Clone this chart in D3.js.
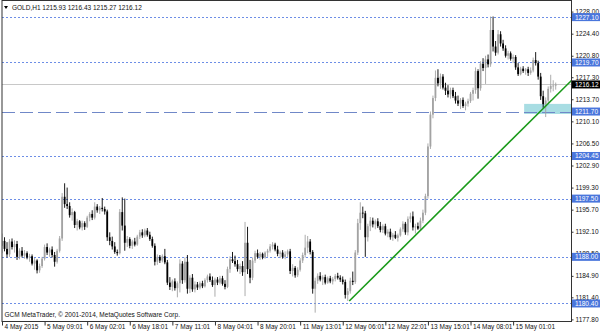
<!DOCTYPE html>
<html>
<head>
<meta charset="utf-8">
<script src="https://cdn.jsdelivr.net/npm/d3@7"></script>
<style>
  body { margin: 0; background: #fff; }
  text { font-family: "Liberation Sans", Arial, sans-serif; }
</style>
</head>
<body>
<div id="chart"></div>
<script>
// chart values
const symbol = "GOLD,H1";
const lastOHLC = [1215.93, 1216.43, 1215.27, 1216.12];
const copyright = "GCM MetaTrader, \u00a9 2001-2014, MetaQuotes Software Corp.";

// hourly bars: [open, high, low, close]
const bars = [
  [1189.8,1191.8,1188.6,1190.6],[1190.6,1191.2,1188.9,1189.3],[1189.3,1190.4,1187.9,1188.4],[1188.4,1190.9,1188.0,1190.5],
  [1190.5,1191.0,1189.2,1189.6],[1189.6,1190.7,1188.7,1190.1],[1190.1,1190.6,1187.5,1188.0],[1188.0,1189.4,1187.6,1189.0],
  [1189.0,1189.6,1187.9,1188.2],[1188.2,1189.1,1187.7,1188.6],[1188.6,1188.9,1187.6,1187.9],[1187.9,1188.5,1187.2,1188.1],
  [1188.1,1188.4,1186.6,1186.9],[1186.9,1187.8,1185.9,1187.4],[1187.4,1187.6,1185.3,1185.8],[1185.8,1186.9,1185.4,1186.5],
  [1186.5,1188.0,1186.2,1187.7],[1187.7,1190.0,1187.4,1189.6],[1189.6,1190.2,1188.3,1188.7],[1188.7,1189.5,1188.0,1189.2],
  [1189.2,1189.7,1187.9,1188.3],[1188.3,1188.8,1186.4,1187.2],[1187.2,1189.3,1186.9,1189.0],[1189.0,1191.4,1188.7,1191.0],
  [1191.0,1198.4,1190.6,1197.8],[1197.8,1200.0,1196.0,1196.6],[1196.6,1199.3,1195.8,1196.3],[1196.3,1196.9,1194.4,1194.8],
  [1194.8,1195.9,1193.9,1195.3],[1195.3,1195.5,1192.7,1193.2],[1193.2,1194.2,1192.3,1193.8],[1193.8,1194.0,1192.5,1192.8],
  [1192.8,1193.9,1192.3,1193.5],[1193.5,1193.8,1192.4,1192.9],[1192.9,1194.7,1192.7,1194.4],[1194.4,1195.3,1193.8,1195.0],
  [1195.0,1195.6,1194.0,1194.4],[1194.4,1196.9,1194.1,1196.2],[1196.2,1196.6,1195.2,1195.6],[1195.6,1196.3,1195.0,1196.0],
  [1196.0,1197.6,1195.4,1195.8],[1195.8,1196.2,1194.9,1195.4],[1195.4,1195.7,1190.6,1191.2],[1191.2,1192.0,1189.9,1190.6],
  [1190.6,1191.3,1189.2,1189.7],[1189.7,1190.4,1188.5,1188.8],[1188.8,1189.2,1188.2,1188.6],[1188.6,1195.8,1188.4,1195.3],
  [1195.3,1197.7,1192.3,1193.1],[1193.1,1197.5,1189.0,1190.3],[1190.3,1191.4,1189.6,1190.9],[1190.9,1191.2,1189.4,1189.8],
  [1189.8,1190.8,1189.3,1190.5],[1190.5,1191.1,1189.7,1190.0],[1190.0,1191.6,1189.8,1191.3],[1191.3,1192.4,1190.9,1192.0],
  [1192.0,1192.5,1191.1,1191.5],[1191.5,1192.6,1191.2,1192.3],[1192.3,1192.7,1191.3,1191.6],[1191.6,1192.1,1190.6,1190.9],
  [1190.9,1191.3,1189.5,1189.8],[1189.8,1190.2,1186.6,1187.2],[1187.2,1188.4,1186.7,1188.0],[1188.0,1188.3,1187.0,1187.4],
  [1187.4,1188.4,1187.1,1188.1],[1188.1,1189.3,1186.8,1187.1],[1187.1,1187.5,1183.4,1183.8],[1183.8,1184.7,1182.6,1183.1],
  [1183.1,1184.3,1182.4,1184.0],[1184.0,1184.5,1182.5,1182.9],[1182.9,1184.0,1181.4,1183.7],[1183.7,1187.6,1182.2,1186.9],
  [1186.9,1187.3,1183.6,1184.2],[1184.2,1187.9,1183.8,1187.2],[1187.2,1188.3,1182.0,1182.8],[1182.8,1185.0,1182.1,1184.6],
  [1184.6,1185.2,1182.3,1182.7],[1182.7,1184.0,1182.2,1183.5],[1183.5,1183.9,1182.6,1183.0],[1183.0,1184.0,1182.7,1183.7],
  [1183.7,1184.1,1182.9,1183.2],[1183.2,1184.5,1183.0,1184.2],[1184.2,1185.1,1183.8,1184.8],[1184.8,1185.3,1183.9,1184.2],
  [1184.2,1184.8,1183.1,1183.4],[1183.4,1184.6,1181.5,1184.3],[1184.3,1184.7,1183.4,1183.8],[1183.8,1184.9,1183.5,1184.5],
  [1184.5,1184.9,1183.3,1183.6],[1183.6,1184.2,1182.7,1183.1],[1183.1,1186.4,1182.9,1186.0],[1186.0,1188.1,1185.4,1187.6],
  [1187.6,1188.8,1187.0,1187.3],[1187.3,1188.2,1186.4,1186.8],[1186.8,1187.5,1185.6,1186.0],[1186.0,1186.9,1185.2,1186.5],
  [1186.5,1187.3,1184.9,1185.5],[1185.5,1193.7,1181.6,1190.3],[1190.3,1192.9,1185.2,1186.0],[1186.0,1187.5,1183.7,1184.6],
  [1184.6,1187.9,1184.2,1187.4],[1187.4,1189.0,1187.0,1188.6],[1188.6,1189.2,1187.7,1188.0],[1188.0,1188.8,1187.5,1188.5],
  [1188.5,1188.7,1187.6,1187.9],[1187.9,1188.9,1187.7,1188.7],[1188.7,1189.3,1188.0,1189.0],[1189.0,1190.1,1188.7,1189.7],
  [1189.7,1190.4,1189.2,1190.0],[1190.0,1190.3,1188.9,1189.2],[1189.2,1189.8,1188.1,1188.5],[1188.5,1189.0,1187.8,1188.7],
  [1188.7,1189.1,1187.7,1188.0],[1188.0,1188.9,1187.6,1188.4],[1188.4,1189.2,1188.0,1188.9],[1188.9,1189.3,1185.2,1185.7],
  [1185.7,1186.8,1184.8,1186.2],[1186.2,1186.5,1184.6,1185.0],[1185.0,1186.3,1184.7,1185.9],[1185.9,1187.8,1185.6,1187.4],
  [1187.4,1188.7,1187.0,1188.3],[1188.3,1191.6,1187.9,1189.5],[1189.5,1191.4,1188.6,1190.5],[1190.5,1190.9,1188.4,1188.8],
  [1188.8,1189.1,1182.0,1182.8],[1182.8,1184.6,1178.9,1184.1],[1184.1,1185.3,1183.6,1184.9],[1184.9,1185.5,1184.0,1184.3],
  [1184.3,1185.0,1183.4,1184.7],[1184.7,1185.1,1183.5,1183.8],[1183.8,1184.8,1183.6,1184.5],[1184.5,1184.9,1183.7,1184.0],
  [1184.0,1184.7,1183.5,1184.4],[1184.4,1185.2,1184.0,1184.9],[1184.9,1185.4,1184.3,1184.6],[1184.6,1185.0,1183.9,1184.3],
  [1184.3,1184.8,1183.5,1183.9],[1183.9,1184.3,1181.2,1181.8],[1181.8,1182.9,1180.8,1182.4],[1182.4,1184.6,1182.0,1184.1],
  [1184.1,1185.6,1183.4,1183.9],[1183.9,1189.1,1183.6,1188.7],[1188.7,1194.2,1188.3,1193.5],[1193.5,1196.9,1192.4,1195.2],
  [1195.2,1196.2,1194.3,1195.1],[1195.1,1195.5,1188.0,1191.2],[1191.2,1193.4,1190.5,1193.0],[1193.0,1194.5,1192.2,1193.9],
  [1193.9,1194.4,1192.8,1193.3],[1193.3,1194.1,1192.5,1193.8],[1193.8,1194.3,1192.7,1193.0],[1193.0,1193.7,1192.0,1192.4],
  [1192.4,1193.3,1191.9,1193.0],[1193.0,1193.4,1191.5,1191.8],[1191.8,1192.5,1191.2,1192.1],[1192.1,1192.6,1190.8,1191.2],
  [1191.2,1191.9,1190.6,1191.6],[1191.6,1192.2,1190.9,1191.1],[1191.1,1191.8,1190.5,1191.5],[1191.5,1192.8,1191.3,1192.5],
  [1192.5,1193.8,1192.1,1193.4],[1193.4,1193.7,1191.6,1192.0],[1192.0,1194.6,1191.5,1194.2],[1194.2,1195.2,1193.6,1194.6],
  [1194.6,1195.4,1192.3,1192.8],[1192.8,1193.4,1191.8,1193.0],[1193.0,1193.6,1192.4,1192.6],[1192.6,1194.4,1192.3,1193.9],
  [1193.9,1195.7,1193.5,1195.2],[1195.2,1198.3,1194.8,1197.9],[1197.9,1206.5,1197.5,1206.0],[1206.0,1211.7,1205.6,1211.2],
  [1211.2,1214.3,1210.6,1213.9],[1213.9,1218.4,1213.4,1217.2],[1217.2,1218.6,1215.8,1216.3],[1216.3,1217.9,1215.4,1217.4],
  [1217.4,1217.8,1215.3,1215.6],[1215.6,1216.4,1214.4,1215.1],[1215.1,1216.0,1214.0,1214.5],[1214.5,1215.6,1213.8,1215.2],
  [1215.2,1215.6,1213.9,1214.2],[1214.2,1214.9,1213.0,1213.5],[1213.5,1214.3,1212.6,1213.0],[1213.0,1213.9,1212.1,1213.6],
  [1213.6,1214.0,1212.3,1212.6],[1212.6,1213.3,1211.9,1213.0],[1213.0,1213.8,1212.5,1213.4],[1213.4,1214.9,1213.1,1214.6],
  [1214.6,1215.6,1213.5,1215.2],[1215.2,1218.9,1214.6,1218.3],[1218.3,1218.6,1213.8,1215.5],[1215.5,1219.9,1215.1,1219.5],
  [1219.5,1220.4,1218.3,1218.8],[1218.8,1220.8,1216.2,1220.2],[1220.2,1221.0,1218.9,1219.4],[1219.4,1227.2,1219.0,1225.0],
  [1225.0,1227.2,1221.5,1222.3],[1222.3,1223.2,1220.8,1221.3],[1221.3,1225.0,1221.0,1224.3],[1224.3,1224.8,1222.3,1222.8],
  [1222.8,1223.4,1221.6,1222.0],[1222.0,1222.5,1220.5,1220.8],[1220.8,1221.6,1220.2,1221.2],[1221.2,1221.5,1220.0,1220.3],
  [1220.3,1221.0,1219.6,1220.6],[1220.6,1220.9,1218.5,1218.9],[1218.9,1219.6,1217.5,1217.8],[1217.8,1219.0,1217.6,1218.7],
  [1218.7,1219.1,1218.0,1218.3],[1218.3,1218.8,1217.7,1218.6],[1218.6,1219.0,1217.5,1218.0],[1218.0,1218.9,1217.7,1218.4],
  [1218.4,1220.5,1218.1,1220.1],[1220.1,1221.4,1219.2,1219.6],[1219.6,1220.0,1216.9,1217.4],[1217.4,1218.0,1213.6,1214.2],
  [1214.2,1215.1,1212.3,1212.9],[1212.9,1214.0,1210.8,1213.5],[1213.5,1215.8,1213.0,1215.4],[1215.4,1217.7,1214.8,1215.9],
  [1215.9,1216.8,1215.0,1215.93],[1215.93,1216.43,1215.27,1216.12]
];

const timeLabels = ["4 May 2015", "5 May 09:01", "6 May 02:01", "6 May 18:01", "7 May 11:01", "8 May 04:01",
  "8 May 20:01", "11 May 13:01", "12 May 06:01", "12 May 22:01", "13 May 15:01", "14 May 08:01", "15 May 01:01"];
const timeLabelBars = [0, 17, 34, 51, 68, 85, 102, 119, 136, 153, 170, 187, 204];

const priceTicks = [1228.00, 1224.40, 1220.80, 1217.30, 1213.70, 1210.10, 1206.50, 1202.90,
  1199.30, 1195.70, 1192.10, 1188.50, 1184.90, 1181.40, 1177.80];

const levelLines = [1227.10, 1219.70, 1204.45, 1197.50, 1188.00, 1180.40];
const supportLine = 1211.70;
const currentPrice = 1216.12;
const trendStart = { bar: 138.6, price: 1180.8 };
const trendEnd = { bar: 227.5, price: 1216.85 };
const zone = { bar0: 208.4, bar1: 227.5, lo: 1211.3, hi: 1212.95 };

const W = 600, H = 333;
const plot = { left: 2, right: 571.5, top: 0.5, bottom: 321.5 };

const svg = d3.select("#chart").append("svg")
  .attr("width", W).attr("height", H)
  .attr("viewBox", `0 0 ${W} ${H}`);

const x = d3.scaleLinear().domain([0, 227.5]).range([2, 572]);
const y = d3.scaleLinear().domain([1177.8, 1228.0]).range([319.4, 11.6]);

svg.append("clipPath").attr("id", "clip")
  .append("rect")
  .attr("x", plot.left).attr("y", plot.top)
  .attr("width", plot.right - plot.left).attr("height", plot.bottom - plot.top);

const g = svg.append("g").attr("clip-path", "url(#clip)");

// highlighted zone
g.append("rect")
  .attr("x", x(zone.bar0)).attr("y", y(zone.hi))
  .attr("width", x(zone.bar1) - x(zone.bar0)).attr("height", y(zone.lo) - y(zone.hi))
  .attr("fill", "#a8dde3");

// horizontal levels
g.selectAll(".lvl").data(levelLines).enter().append("line")
  .attr("x1", plot.left).attr("x2", plot.right)
  .attr("y1", d => Math.round(y(d)) + 0.5).attr("y2", d => Math.round(y(d)) + 0.5)
  .attr("stroke", "#6d8ee6").attr("stroke-width", 1).attr("stroke-dasharray", "2,2");

g.append("line")
  .attr("x1", plot.left).attr("x2", plot.right)
  .attr("y1", Math.round(y(supportLine)) + 0.5).attr("y2", Math.round(y(supportLine)) + 0.5)
  .attr("stroke", "#7088c8").attr("stroke-width", 1).attr("stroke-dasharray", "13,5");

g.append("line")
  .attr("x1", plot.left).attr("x2", plot.right)
  .attr("y1", Math.round(y(currentPrice)) + 0.5).attr("y2", Math.round(y(currentPrice)) + 0.5)
  .attr("stroke", "#c8c8c8").attr("stroke-width", 1);

// candles
const bull = "#a3a3a3", bear = "#000";
const candle = g.selectAll(".c").data(bars).enter().append("g");
candle.append("line")
  .attr("x1", (d, i) => x(i)).attr("x2", (d, i) => x(i))
  .attr("y1", d => y(d[1])).attr("y2", d => y(d[2]))
  .attr("stroke", d => d[3] >= d[0] ? bull : bear).attr("stroke-width", 0.9);
candle.append("rect")
  .attr("x", (d, i) => x(i) - 0.9).attr("width", 1.8)
  .attr("y", d => y(Math.max(d[0], d[3])))
  .attr("height", d => Math.max(0.8, Math.abs(y(d[0]) - y(d[3]))))
  .attr("fill", d => d[3] >= d[0] ? bull : bear);

// trend line
g.append("line")
  .attr("x1", x(trendStart.bar)).attr("y1", y(trendStart.price))
  .attr("x2", x(trendEnd.bar)).attr("y2", y(trendEnd.price))
  .attr("stroke", "#1a9a1a").attr("stroke-width", 1.6);

// frame
svg.append("rect")
  .attr("x", plot.left).attr("y", plot.top)
  .attr("width", plot.right - plot.left).attr("height", plot.bottom - plot.top)
  .attr("fill", "none").attr("stroke", "#333").attr("stroke-width", 1);

// price axis
const yAxis = svg.append("g")
  .attr("transform", `translate(${plot.right},0)`)
  .call(d3.axisRight(y).tickValues(priceTicks).tickSize(2).tickPadding(2).tickFormat(d3.format(".2f")));
yAxis.select(".domain").remove();
yAxis.selectAll("line").attr("stroke", "#333");
yAxis.selectAll("text").attr("font-size", 6.5).attr("fill", "#111")
  .attr("font-family", "Liberation Sans, Arial, sans-serif");

// level labels
const lblH = 8;
const lbl = svg.selectAll(".lbl").data(levelLines.concat([supportLine])).enter().append("g");
lbl.append("rect")
  .attr("x", plot.right + 0.5).attr("y", d => y(d) - lblH / 2)
  .attr("width", W - plot.right).attr("height", lblH)
  .attr("fill", "#4a76dc");
lbl.append("text")
  .attr("x", plot.right + 3.5).attr("y", d => y(d) + 2.4)
  .attr("font-size", 6.5).attr("fill", "#fff")
  .text(d => d3.format(".2f")(d));

svg.append("rect")
  .attr("x", plot.right + 0.5).attr("y", y(currentPrice) - lblH / 2)
  .attr("width", W - plot.right).attr("height", lblH)
  .attr("fill", "#000");
svg.append("text")
  .attr("x", plot.right + 3.5).attr("y", y(currentPrice) + 2.4)
  .attr("font-size", 6.5).attr("fill", "#fff")
  .text(d3.format(".2f")(currentPrice));

// time axis
const xAxis = svg.append("g")
  .attr("transform", `translate(0,${plot.bottom})`)
  .call(d3.axisBottom(x).tickValues(timeLabelBars).tickSize(4)
    .tickFormat((d, i) => timeLabels[i]));
xAxis.select(".domain").remove();
xAxis.selectAll("line").attr("stroke", "#333");
xAxis.selectAll("text")
  .attr("text-anchor", "start").attr("x", 2).attr("y", 3).attr("dy", "0.71em")
  .attr("font-size", 6.5).attr("fill", "#111")
  .attr("font-family", "Liberation Sans, Arial, sans-serif");

// header and footer
svg.append("path")
  .attr("d", "M4,6 L8,6 L6,9 Z").attr("fill", "#000");
svg.append("text")
  .attr("x", 12).attr("y", 9.5).attr("font-size", 6.5).attr("fill", "#111")
  .text(`${symbol}  ${lastOHLC.map(v => v.toFixed(2)).join(" ")}`);
svg.append("text")
  .attr("x", 4.5).attr("y", 316.5).attr("font-size", 6.5).attr("fill", "#111")
  .text(copyright);
</script>
</body>
</html>
